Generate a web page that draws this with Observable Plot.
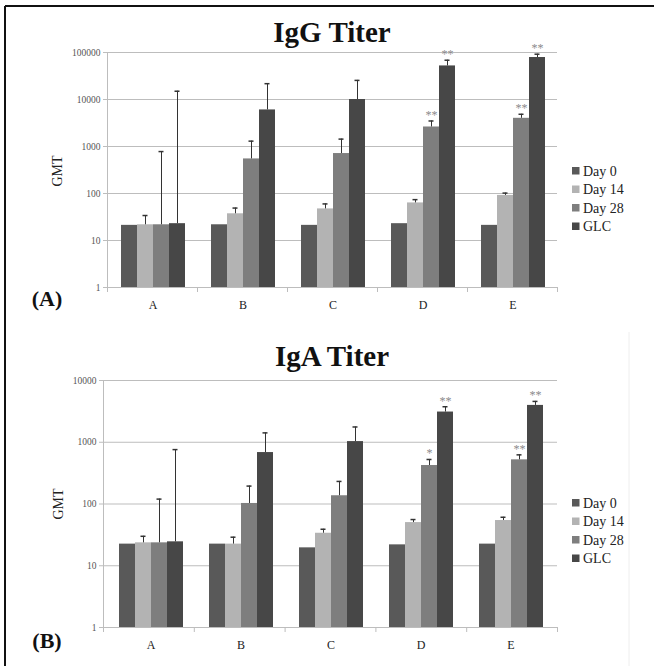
<!DOCTYPE html>
<html><head><meta charset="utf-8">
<script src="https://cdn.jsdelivr.net/npm/d3@7"></script>
<script src="https://cdn.jsdelivr.net/npm/@observablehq/plot@0.6"></script>
<style>
body{margin:0;background:#fff;}
#root{position:relative;width:654px;height:666px;overflow:hidden;background:#fff;}
#root > *{position:absolute;}
</style></head><body><div id="root"></div>
<script>
// ---- data ----
const categories = ["A", "B", "C", "D", "E"];
const series = ["Day 0", "Day 14", "Day 28", "GLC"];
const colors = ["#595959", "#b3b3b3", "#7e7e7e", "#474747"];

// IgG geometric mean titers (rows = series, columns = categories)
const iggMeans = [
  [21, 21.6, 21, 22.8, 21],
  [21.6, 37, 47, 63, 91],
  [21.6, 544, 708, 2600, 3980],
  [22.8, 6000, 10000, 51800, 78200]
];
const iggErrTop = [
  [null, null, null, null, null],
  [34, 49, 60, 74, 102],
  [780, 1300, 1436, 3490, 4850],
  [15000, 21700, 25500, 68500, 92000]
];
const iggStars = [
  ["", "", "", "", ""],
  ["", "", "", "", ""],
  ["", "", "", "**", "**"],
  ["", "", "", "**", "**"]
];
const iggTicks = [1, 10, 100, 1000, 10000, 100000];

// IgA geometric mean titers
const igaMeans = [
  [22.4, 22.4, 19.5, 21.8, 22.4],
  [23.5, 22.4, 33.6, 50, 54],
  [23.5, 102, 136, 420, 519],
  [24.4, 681, 1025, 3085, 3950]
];
const igaErrTop = [
  [null, null, null, null, null],
  [30, 29, 39, 56, 61],
  [120, 195, 232, 526, 625],
  [760, 1418, 1767, 3760, 4585]
];
const igaStars = [
  ["", "", "", "", ""],
  ["", "", "", "", ""],
  ["", "", "", "*", "**"],
  ["", "", "", "**", "**"]
];
const igaTicks = [1, 10, 100, 1000, 10000];

const titles = ["IgG Titer", "IgA Titer"];
const panelLabels = ["(A)", "(B)"];
const yLabel = "GMT";

// ---- drawing ----
const FONT = "Liberation Serif, Times New Roman, serif";
const AXIS = "#bdbdbd";

function panel({means, errs, stars, ticks, height, marginTop, marginBottom, marginLeft, marginRight}) {
  const rows = [];
  series.forEach((s, i) => categories.forEach((c, j) =>
    rows.push({cat: c, series: s, value: means[i][j], err: errs[i][j], star: stars[i][j]})));
  const errRows = rows.filter(d => d.err != null);
  const starRows = rows.filter(d => d.star);
  const common = {width: 654, height, marginTop, marginBottom, marginLeft, marginRight};
  const yScale = {type: "log", domain: [ticks[0], ticks[ticks.length - 1]], axis: null};
  const bounds = d3.range(categories.length + 1);

  // background layer: grid, axis lines, y tick labels
  const bg = Plot.plot({
    ...common,
    style: {fontFamily: FONT, background: "transparent", overflow: "visible"},
    x: {domain: [0, categories.length], axis: null},
    y: yScale,
    marks: [
      Plot.ruleY(ticks, {stroke: AXIS, insetLeft: -4}),
      Plot.ruleX([0], {stroke: AXIS}),
      Plot.axisX({ticks: bounds, tickSize: 5, tickFormat: () => "", stroke: AXIS, label: null}),
      Plot.text(ticks, {y: d => d, text: d => String(d), frameAnchor: "left", dx: -7, textAnchor: "end", fontSize: 9.5, fill: "#555"})
    ]
  });

  // bars layer
  const fg = Plot.plot({
    ...common,
    style: {fontFamily: FONT, background: "transparent", overflow: "visible", color: "#222"},
    fx: {domain: categories, paddingInner: 0.28, paddingOuter: 0.14, label: null},
    x: {domain: series, padding: 0, axis: null},
    y: yScale,
    color: {domain: series, range: colors},
    marks: [
      Plot.barY(rows, {fx: "cat", x: "series", y1: ticks[0], y2: "value", fill: "series"}),
      Plot.ruleX(errRows, {fx: "cat", x: "series", y1: "value", y2: "err", stroke: "#333", strokeWidth: 1}),
      Plot.tickY(errRows, {fx: "cat", x: "series", y: "err", stroke: "#333", strokeWidth: 1.5, insetLeft: 5.5, insetRight: 5.5}),
      Plot.text(starRows, {fx: "cat", x: "series", y: "err", text: "star", dy: -2, lineAnchor: "bottom", fontSize: 12, fill: "#8a8a8a"}),
      Plot.axisFx({anchor: "bottom", tickSize: 0, tickPadding: 13, fontSize: 12, label: null})
    ]
  });
  return [bg, fg];
}

const root = document.getElementById("root");

function place(nodes, top) {
  nodes.forEach(n => { n.style.left = "0px"; n.style.top = top + "px"; root.appendChild(n); });
}

place(panel({means: iggMeans, errs: iggErrTop, stars: iggStars, ticks: iggTicks,
  height: 330, marginTop: 52, marginBottom: 43, marginLeft: 107, marginRight: 97}), 0);

place(panel({means: igaMeans, errs: igaErrTop, stars: igaStars, ticks: igaTicks,
  height: 336, marginTop: 50, marginBottom: 39, marginLeft: 103, marginRight: 97}), 330);

// overlay: titles, panel labels, axis titles, legends, border
const ov = d3.select(root).append("svg")
  .attr("width", 654).attr("height", 666)
  .style("left", "0px").style("top", "0px")
  .style("font-family", FONT);

ov.append("line").attr("x1", 629).attr("y1", 332).attr("x2", 629).attr("y2", 666).attr("stroke", "#eeeeee").attr("stroke-width", 1);
ov.append("line").attr("x1", 5).attr("y1", 6).attr("x2", 654).attr("y2", 6).attr("stroke", "#111").attr("stroke-width", 2);
ov.append("line").attr("x1", 5).attr("y1", 6).attr("x2", 5).attr("y2", 666).attr("stroke", "#111").attr("stroke-width", 2);

const layout = [
  {titleY: 42, labelY: 306, gmtX: 62, gmtY: 171, legX: 572, legY: 171},
  {titleY: 366, labelY: 648, gmtX: 63, gmtY: 504, legX: 572, legY: 503}
];
layout.forEach((L, k) => {
  ov.append("text").attr("x", 332).attr("y", L.titleY).attr("text-anchor", "middle")
    .attr("font-size", 29).attr("font-weight", "bold").attr("fill", "#111").text(titles[k]);
  ov.append("text").attr("x", 47).attr("y", L.labelY).attr("text-anchor", "middle")
    .attr("font-size", 22).attr("font-weight", "bold").attr("fill", "#111").text(panelLabels[k]);
  ov.append("text").attr("transform", `translate(${L.gmtX},${L.gmtY}) rotate(-90)`)
    .attr("text-anchor", "middle").attr("font-size", 14).attr("fill", "#222").text(yLabel);
  series.forEach((s, i) => {
    const y = L.legY + i * 18.5;
    ov.append("rect").attr("x", L.legX).attr("y", y - 4).attr("width", 7.5).attr("height", 7.5).attr("fill", colors[i]);
    ov.append("text").attr("x", L.legX + 11).attr("y", y + 4.5).attr("font-size", 14).attr("fill", "#222").text(s);
  });
});
</script>
</body></html>
